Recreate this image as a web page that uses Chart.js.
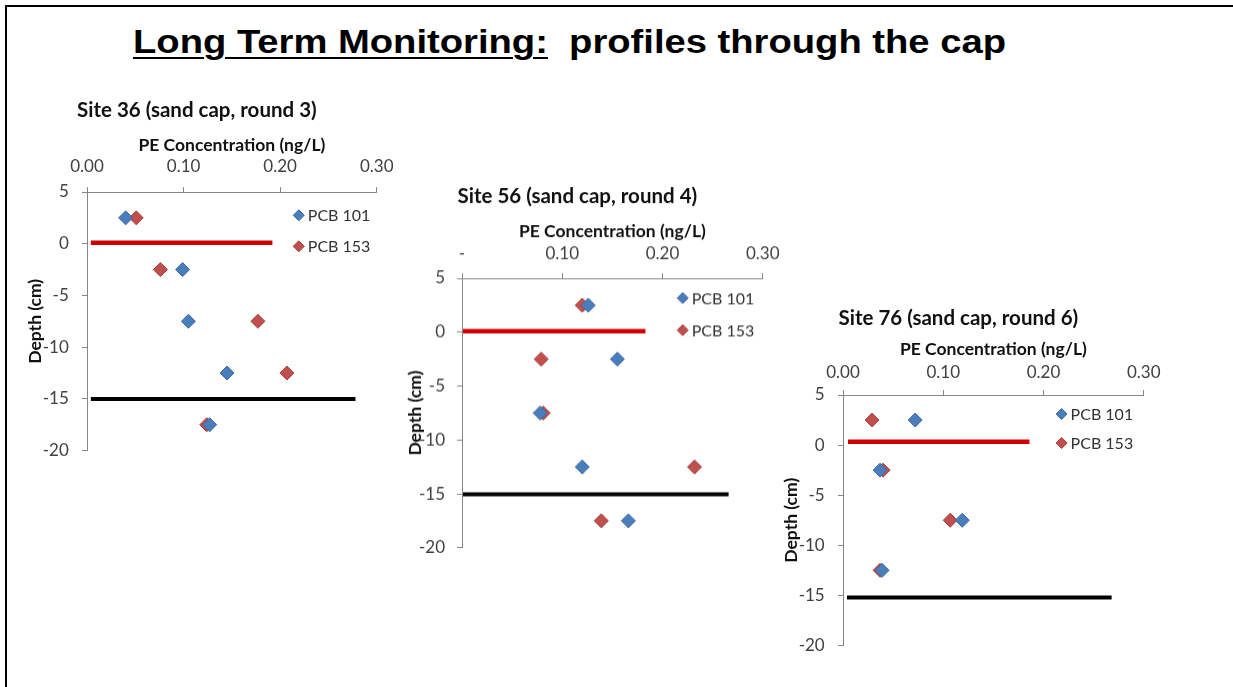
<!DOCTYPE html>
<html><head><meta charset="utf-8">
<script src="https://cdn.jsdelivr.net/npm/chart.js@4"></script>
<style>
html,body{margin:0;padding:0;background:#fff;}
body{width:1233px;height:687px;position:relative;overflow:hidden;}
#frame{position:absolute;left:5px;top:5px;width:1300px;height:800px;border-top:2px solid #000;border-left:2px solid #000;}
#title{position:absolute;left:133px;top:23.5px;font:bold 34px "Liberation Sans",Arial,sans-serif;line-height:34px;white-space:pre;transform-origin:0 0;color:#000;}
#title .u{text-decoration:underline;text-decoration-thickness:2px;text-underline-offset:4px;}
canvas{position:absolute;}
</style>
</head>
<body>
<div id="frame"></div>
<div id="title"><span class="u">Long Term Monitoring:</span>  profiles through the cap</div>
<canvas id="c36"></canvas>
<canvas id="c56"></canvas>
<canvas id="c76"></canvas>
<script>
// ---------- data ----------
const seriesNames = ['PCB 101', 'PCB 153'];
const xTickValues = [0, 0.1, 0.2, 0.3];
const xTickLabelsStd = ['0.00', '0.10', '0.20', '0.30'];
const xTickLabelsDash = ['-', '0.10', '0.20', '0.30'];
const yTickValues = [5, 0, -5, -10, -15, -20];
const yTickLabels = ['5', '0', '-5', '-10', '-15', '-20'];

const site36Depth = [2.5, -2.5, -7.5, -12.5, -17.5];
const site36PCB101 = [0.040, 0.099, 0.105, 0.145, 0.127];
const site36PCB153 = [0.051, 0.076, 0.177, 0.207, 0.124];
const site36CapTopX = [0.004, 0.192];
const site36CapTopDepth = [0.1, 0.1];
const site36CapBaseX = [0.004, 0.278];
const site36CapBaseDepth = [-15, -15];

const site56Depth = [2.5, -2.5, -7.5, -12.5, -17.5];
const site56PCB101 = [0.126, 0.155, 0.078, 0.120, 0.166];
const site56PCB153 = [0.120, 0.079, 0.081, 0.232, 0.139];
const site56CapTopX = [0.001, 0.183];
const site56CapTopDepth = [0.1, 0.1];
const site56CapBaseX = [0.001, 0.266];
const site56CapBaseDepth = [-15.05, -15.05];

const site76Depth = [2.5, -2.5, -7.5, -12.5];
const site76PCB101 = [0.072, 0.037, 0.119, 0.039];
const site76PCB153 = [0.029, 0.040, 0.107, 0.037];
const site76CapTopX = [0.005, 0.186];
const site76CapTopDepth = [0.33, 0.33];
const site76CapBaseX = [0.004, 0.268];
const site76CapBaseDepth = [-15.2, -15.2];

// ---------- helpers ----------
const pts = (xs, ys) => xs.map((x, i) => ({x: x, y: ys[i]}));
const BLUE = '#4A7EBB', BLUE_B = '#3B69A6', RED = '#C0504D', RED_B = '#A63D3A';
const FONT = 'Lato, "Open Sans", sans-serif';
const TITLE_PX = 20.5, AXT_PX = 17.5, TICK_PX = 17;

const diamondLegend = {
  id: 'diamondLegend',
  afterDatasetsDraw(chart, args, opts) {
    const {ctx, chartArea} = chart;
    const x = chartArea.left + opts.fx * (chartArea.right - chartArea.left);
    let y = chartArea.top + opts.dy;
    chart.data.datasets.forEach(ds => {
      if (!ds.inLegend) return;
      ctx.save();
      const r = 5.5;
      ctx.beginPath();
      ctx.moveTo(x - r, y); ctx.lineTo(x, y - r); ctx.lineTo(x + r, y); ctx.lineTo(x, y + r); ctx.closePath();
      ctx.fillStyle = ds.backgroundColor; ctx.fill();
      ctx.lineWidth = 1; ctx.strokeStyle = ds.borderColor; ctx.stroke();
      ctx.font = '16px ' + FONT;
      ctx.fillStyle = '#333';
      ctx.textBaseline = 'middle';
      ctx.textAlign = 'left';
      ctx.fillText(ds.label, x + 9, y + 1);
      ctx.restore();
      y += opts.gap;
    });
  }
};

function makeChart(id, g, d) {
  const left = g.L - 70, top = g.T - 100;
  const width = 2 * (g.titleCx - left);
  const height = g.B - top + 22;
  const cv = document.getElementById(id);
  cv.style.left = left + 'px'; cv.style.top = top + 'px';
  cv.style.width = width + 'px'; cv.style.height = height + 'px';
  cv.width = width; cv.height = height;
  const titlePadTop = g.titleCy - top - TITLE_PX * 1.2 / 2;
  const titleBlock = titlePadTop + TITLE_PX * 1.2;
  const xAxisH = 100 - titleBlock;
  const xTitlePad = g.axisTitleCy - (top + titleBlock) - AXT_PX * 1.2 / 2;
  const xTickPad = (g.T - g.tickCy) - 5 - TICK_PX * 1.2 / 2;
  const yTitlePad = g.yTitleCx - left - AXT_PX * 1.2 / 2;
  const yTickPad = (g.L - g.yLabelRight) - 5;

  return new Chart(cv, {
    type: 'scatter',
    data: {
      datasets: [
        {label: 'cap top', data: pts(d.topX, d.topY), showLine: true, borderColor: '#D00000', borderWidth: 4.5, pointRadius: 0, borderCapStyle: 'butt', fill: false},
        {label: 'cap base', data: pts(d.baseX, d.baseY), showLine: true, borderColor: '#000000', borderWidth: 4, pointRadius: 0, borderCapStyle: 'butt', fill: false},
        {label: seriesNames[0], inLegend: true, data: pts(d.a, d.depth), pointStyle: 'rectRot', pointRadius: 7, pointHoverRadius: 7, backgroundColor: BLUE, borderColor: BLUE_B, borderWidth: 1},
        {label: seriesNames[1], inLegend: true, data: pts(d.b, d.depth), pointStyle: 'rectRot', pointRadius: 7, pointHoverRadius: 7, backgroundColor: RED, borderColor: RED_B, borderWidth: 1}
      ]
    },
    options: {
      responsive: false,
      animation: false,
      events: [],
      layout: {padding: {left: 0, top: 0, right: width - (g.R - left), bottom: 22}},
      plugins: {
        legend: {display: false},
        tooltip: {enabled: false},
        title: {display: true, text: g.title, color: '#111', font: {family: FONT, size: TITLE_PX, weight: 'bold', lineHeight: 1.2}, padding: {top: titlePadTop, bottom: 0}},
        diamondLegend: {fx: g.legFx, dy: g.legDy, gap: g.legGap}
      },
      scales: {
        x: {
          type: 'linear', position: 'top', min: 0, max: 0.3,
          afterBuildTicks: s => { s.ticks = xTickValues.map(v => ({value: v})); },
          afterFit: s => { s.height = xAxisH; },
          ticks: {
            color: '#404040', font: {family: FONT, size: TICK_PX, lineHeight: 1.2}, padding: xTickPad, maxRotation: 0, autoSkip: false,
            callback: (v) => d.xLabels[xTickValues.findIndex(t => Math.abs(t - v) < 1e-9)]
          },
          grid: {display: true, drawOnChartArea: false, drawTicks: true, tickLength: 5, color: '#868686', lineWidth: 1},
          border: {display: true, color: '#868686', width: 1},
          title: {display: true, text: 'PE Concentration (ng/L)', color: '#111', font: {family: FONT, size: AXT_PX, weight: 'bold', lineHeight: 1.2}, padding: {top: xTitlePad, bottom: 0}}
        },
        y: {
          type: 'linear', position: 'left', min: -20, max: 5,
          afterBuildTicks: s => { s.ticks = yTickValues.slice().reverse().map(v => ({value: v})); },
          afterFit: s => { s.width = 70; },
          ticks: {
            color: '#404040', font: {family: FONT, size: TICK_PX, lineHeight: 1.2}, padding: yTickPad, autoSkip: false,
            callback: (v) => yTickLabels[yTickValues.indexOf(v)]
          },
          grid: {display: true, drawOnChartArea: false, drawTicks: true, tickLength: 5, color: '#868686', lineWidth: 1},
          border: {display: true, color: '#868686', width: 1},
          title: {display: true, text: 'Depth (cm)', color: '#111', font: {family: FONT, size: AXT_PX, weight: 'bold', lineHeight: 1.2}, padding: {top: yTitlePad, bottom: 0}}
        }
      }
    },
    plugins: [diamondLegend]
  });
}

makeChart('c36',
  {L: 86.7, T: 191.7, R: 377, B: 452, titleCx: 212, titleCy: 110, axisTitleCy: 145, tickCy: 166.7, yTitleCx: 35, yLabelRight: 68.5, legFx: 0.731, legDy: 23.3, legGap: 31, title: 'Site 36 (sand cap, round 3)'},
  {depth: site36Depth, a: site36PCB101, b: site36PCB153, topX: site36CapTopX, topY: site36CapTopDepth, baseX: site36CapBaseX, baseY: site36CapBaseDepth, xLabels: xTickLabelsStd});
makeChart('c56',
  {L: 462, T: 278.3, R: 762.7, B: 548.3, titleCx: 596, titleCy: 197, axisTitleCy: 231.7, tickCy: 254, yTitleCx: 415, yLabelRight: 445, legFx: 0.734, legDy: 19.7, legGap: 32, title: 'Site 56 (sand cap, round 4)'},
  {depth: site56Depth, a: site56PCB101, b: site56PCB153, topX: site56CapTopX, topY: site56CapTopDepth, baseX: site56CapBaseX, baseY: site56CapBaseDepth, xLabels: xTickLabelsDash});
makeChart('c76',
  {L: 843.3, T: 395, R: 1144, B: 647.3, titleCx: 973.3, titleCy: 318.3, axisTitleCy: 349, tickCy: 372.3, yTitleCx: 791.7, yLabelRight: 825, legFx: 0.727, legDy: 19, legGap: 29, title: 'Site 76 (sand cap, round 6)'},
  {depth: site76Depth, a: site76PCB101, b: site76PCB153, topX: site76CapTopX, topY: site76CapTopDepth, baseX: site76CapBaseX, baseY: site76CapBaseDepth, xLabels: xTickLabelsStd});

// stretch main title to reference width
const t = document.getElementById('title');
const w = t.getBoundingClientRect().width;
t.style.transform = 'scaleX(' + (873 / w) + ')';
</script>
</body></html>
